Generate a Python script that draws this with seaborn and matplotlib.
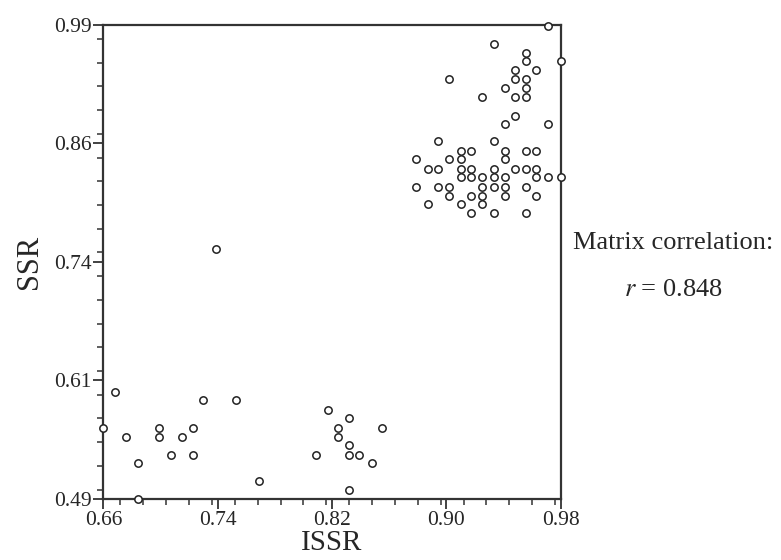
import numpy as np
import pandas as pd
import seaborn as sns
import matplotlib.pyplot as plt
from matplotlib.ticker import MultipleLocator

# --- data ---
issr = [
    # upper cluster
    0.971, 0.933, 0.956, 0.956, 0.980, 0.948, 0.963, 0.902, 0.948, 0.956,
    0.941, 0.956, 0.925, 0.948, 0.956, 0.948, 0.941, 0.971,
    0.894, 0.933,
    0.910, 0.917, 0.941, 0.956, 0.963,
    0.879, 0.902, 0.910, 0.941,
    0.887, 0.894, 0.910, 0.917, 0.933, 0.948, 0.956, 0.963,
    0.910, 0.917, 0.925, 0.933, 0.941, 0.963, 0.971, 0.980,
    0.879, 0.894, 0.902, 0.925, 0.933, 0.941, 0.956,
    0.902, 0.917, 0.925, 0.941, 0.963,
    0.887, 0.910, 0.925,
    0.917, 0.933, 0.956,
    # isolated
    0.739,
    # lower left cluster
    0.668, 0.730, 0.753, 0.660, 0.676, 0.699, 0.699, 0.715, 0.723, 0.707,
    0.723, 0.684, 0.684, 0.769,
    # lower middle cluster
    0.817, 0.832, 0.824, 0.855, 0.824, 0.832, 0.809, 0.832, 0.839, 0.848, 0.832,
]
ssr = [
    0.989, 0.970, 0.960, 0.952, 0.952, 0.942, 0.942, 0.933, 0.933, 0.933,
    0.923, 0.923, 0.914, 0.914, 0.914, 0.894, 0.885, 0.885,
    0.867, 0.867,
    0.857, 0.857, 0.857, 0.857, 0.857,
    0.848, 0.848, 0.848, 0.848,
    0.838, 0.838, 0.838, 0.838, 0.838, 0.838, 0.838, 0.838,
    0.829, 0.829, 0.829, 0.829, 0.829, 0.829, 0.829, 0.829,
    0.819, 0.819, 0.819, 0.819, 0.819, 0.819, 0.819,
    0.809, 0.809, 0.809, 0.809, 0.809,
    0.801, 0.801, 0.801,
    0.791, 0.791, 0.791,
    0.754,
    0.603, 0.594, 0.594, 0.565, 0.555, 0.565, 0.555, 0.555, 0.565, 0.536,
    0.536, 0.528, 0.490, 0.509,
    0.584, 0.575, 0.565, 0.565, 0.555, 0.547, 0.536, 0.536, 0.536, 0.528, 0.500,
]

x_ticks = [0.66, 0.74, 0.82, 0.90, 0.98]
x_labels = ['0.66', '0.74', '0.82', '0.90', '0.98']
y_ticks = [0.49, 0.615, 0.74, 0.865, 0.99]
y_labels = ['0.49', '0.61', '0.74', '0.86', '0.99']

df = pd.DataFrame({'ISSR': issr, 'SSR': ssr})

# --- plot ---
sns.set_theme(style="ticks")
plt.rcParams['font.family'] = ['Liberation Serif', 'DejaVu Serif']
plt.rcParams['mathtext.fontset'] = 'stix'

fig = plt.figure(figsize=(7.81, 5.6), dpi=100)
ax = fig.add_axes([0.1323, 0.1089, 0.5857, 0.847])

sns.scatterplot(data=df, x='ISSR', y='SSR', ax=ax,
                s=28, facecolor='white', edgecolor='#222222',
                linewidth=1.1, clip_on=False, zorder=5)

ax.set_xlim(0.66, 0.98)
ax.set_ylim(0.49, 0.99)
ax.set_xticks(x_ticks)
ax.set_xticklabels(x_labels)
ax.set_yticks(y_ticks)
ax.set_yticklabels(y_labels)
ax.xaxis.set_minor_locator(MultipleLocator(0.016))
ax.yaxis.set_minor_locator(MultipleLocator(0.025))

ax.tick_params(which='major', direction='out', length=7, width=1.3,
               color='#333333', labelsize=15.5, pad=1.5)
ax.tick_params(which='minor', direction='out', length=4, width=1.1,
               color='#333333')
for s in ax.spines.values():
    s.set_linewidth(1.6)
    s.set_color('#333333')

ax.set_xlabel('ISSR', fontsize=21, labelpad=0)
ax.set_ylabel('SSR', fontsize=22, labelpad=7)

fig.text(0.862, 0.566, 'Matrix correlation:', fontsize=19, ha='center', va='center')
fig.text(0.862, 0.482, '$r$ = 0.848', fontsize=19, ha='center', va='center')

fig.savefig('out.png', dpi=100)
